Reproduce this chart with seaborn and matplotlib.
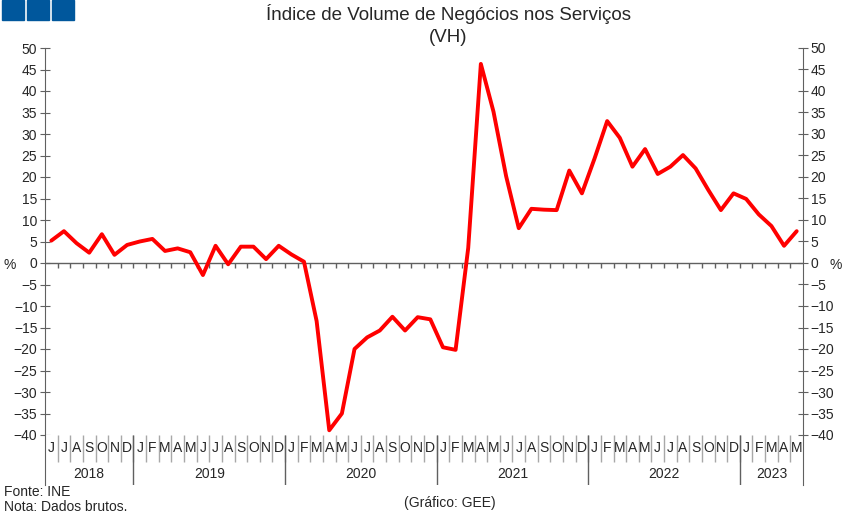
import matplotlib
matplotlib.use("Agg")
import matplotlib.pyplot as plt
import matplotlib.patches as mpatches
import seaborn as sns
import numpy as np
import pandas as pd

# ── data: year-on-year change (%), Jun 2018 .. May 2023 ──
months = (['J', 'J', 'A', 'S', 'O', 'N', 'D']
          + ['J', 'F', 'M', 'A', 'M', 'J', 'J', 'A', 'S', 'O', 'N', 'D'] * 4
          + ['J', 'F', 'M', 'A', 'M'])
years = ['2018', '2019', '2020', '2021', '2022', '2023']
year_lengths = [7, 12, 12, 12, 12, 5]

vh = [5.2, 7.4, 4.6, 2.4, 6.7, 1.9, 4.2,
      5.0, 5.6, 2.8, 3.4, 2.5, -2.8, 4.0, -0.3, 3.8, 3.8, 0.9, 4.0,
      2.0, 0.3, -13.5, -38.9, -35.0, -20.0, -17.3, -15.7, -12.5, -15.7, -12.6, -13.1,
      -19.6, -20.2, 3.5, 46.3, 35.2, 20.2, 8.1, 12.6, 12.4, 12.3, 21.5, 16.2,
      24.3, 33.0, 29.1, 22.4, 26.5, 20.7, 22.4, 25.1, 22.0, 17.0, 12.3, 16.2,
      14.9, 11.3, 8.6, 4.0, 7.4]

df = pd.DataFrame({'pos': np.arange(len(vh)) + 0.5, 'vh': vh})
n = len(vh)

# ── figure layout ──
sns.set_style("white")
plt.rcParams['font.family'] = ['Liberation Sans', 'DejaVu Sans']

W, H = 850, 518
fig = plt.figure(figsize=(W / 100, H / 100), dpi=100)

x0, x1 = 45, 803
y_top, y_bot, y_lab = 48, 435, 485
ax = fig.add_axes([x0 / W, 1 - y_bot / H, (x1 - x0) / W, (y_bot - y_top) / H])
axm = fig.add_axes([x0 / W, 1 - y_lab / H, (x1 - x0) / W, (y_lab - y_bot) / H])

axis_col = '#606060'
fs = 10

sns.lineplot(data=df, x='pos', y='vh', ax=ax, color='#FF0000', lw=2.8, zorder=3)
ax.set_xlim(0, n)
ax.set_ylim(-40, 50)
ax.set_yticks(range(-40, 51, 5))
ax.set_xticks([])
ax.set_xlabel('')
ax.set_ylabel('')
for s in ['top', 'bottom', 'right']:
    ax.spines[s].set_visible(False)
ax.spines['left'].set_color(axis_col)
ax.tick_params(axis='y', direction='inout', length=7, color=axis_col,
               labelsize=fs, pad=2)

# zero line with month ticks
ax.axhline(0, color=axis_col, lw=1, zorder=2)
ax.vlines(np.arange(1, n), -1.2, 0, color=axis_col, lw=1, zorder=2)

# right axis
axr = ax.twinx()
axr.set_ylim(ax.get_ylim())
axr.set_yticks(range(-40, 51, 5))
for s in ['top', 'bottom', 'left']:
    axr.spines[s].set_visible(False)
axr.spines['right'].set_color(axis_col)
axr.tick_params(axis='y', direction='inout', length=7, color=axis_col,
                labelsize=fs, pad=2)

# month / year band
axm.set_xlim(0, n)
axm.set_ylim(0, 1)
axm.set_xticks([])
axm.set_yticks([])
for s in ['top', 'bottom']:
    axm.spines[s].set_visible(False)
for s in ['left', 'right']:
    axm.spines[s].set_color(axis_col)
month_row = 27 / 50
axm.vlines(np.arange(1, n), 1 - month_row, 1, color='#a8a8a8', lw=1)
for i, m in enumerate(months):
    axm.text(i + 0.5, 1 - month_row / 2, m, ha='center', va='center', fontsize=fs)
start = 0
for yr, ln in zip(years, year_lengths):
    if start > 0:
        axm.vlines(start, 0, 1, color=axis_col, lw=1)
    axm.text(start + ln / 2, (1 - month_row) / 2, yr, ha='center', va='center', fontsize=fs)
    start += ln

# titles and notes
fig.text(448 / W, 1 - 14 / H, 'Índice de Volume de Negócios nos Serviços',
         ha='center', va='center', fontsize=13.5)
fig.text(448 / W, 1 - 37 / H, '(VH)', ha='center', va='center', fontsize=13.5)
fig.text(10 / W, 1 - 265 / H, '%', ha='center', va='center', fontsize=fs)
fig.text(836 / W, 1 - 265 / H, '%', ha='center', va='center', fontsize=fs)
fig.text(4 / W, 1 - 492 / H, 'Fonte: INE', ha='left', va='center', fontsize=fs)
fig.text(4 / W, 1 - 507 / H, 'Nota: Dados brutos.', ha='left', va='center', fontsize=fs)
fig.text(450 / W, 1 - 503 / H, '(Gráfico: GEE)', ha='center', va='center', fontsize=fs)

# header squares
for xs in [2, 27, 52]:
    fig.patches.append(mpatches.Rectangle((xs / W, 1 - 20 / H), 22 / W, 20 / H,
                                          transform=fig.transFigure,
                                          color='#00579C', zorder=5))

fig.savefig('out.png', dpi=100)
